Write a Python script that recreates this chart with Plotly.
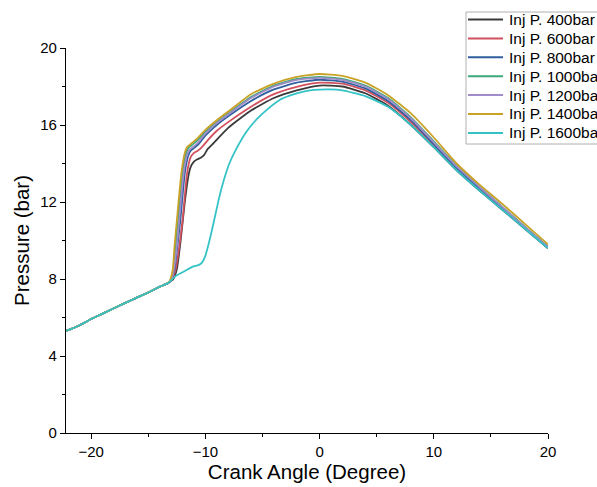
import plotly.graph_objects as go

# ---- data ----
base_x = [-22.2, -21, -20, -19, -18, -17, -16, -15, -14, -13.5, -13.2]
base_y = [5.3, 5.6, 5.92, 6.2, 6.48, 6.76, 7.03, 7.3, 7.6, 7.72, 7.82]

names = ["Inj P. 400bar", "Inj P. 600bar", "Inj P. 800bar", "Inj P. 1000bar",
         "Inj P. 1200bar", "Inj P. 1400bar", "Inj P. 1600bar"]
colors = ["#3a3a3a", "#d2505e", "#2f5f9e", "#3aa87a", "#a08cc8", "#c9a227", "#33c3c6"]

x400 = [-12.8, -12.5, -12.2, -11.8, -11.5, -11.3, -11.0, -10.7, -10.4, -10.1, -9.8, -9.3, -8, -6, -4, -2, 0, 2, 4, 6, 8, 10, 12, 14, 16, 18, 20]
y400 = [8.0, 8.5, 9.8, 12.0, 13.3, 13.8, 14.1, 14.22, 14.3, 14.45, 14.75, 15.05, 15.85, 16.75, 17.4, 17.8, 18.05, 18.0, 17.65, 17.0, 16.0, 14.85, 13.65, 12.6, 11.6, 10.6, 9.6]

x600 = [-12.9, -12.6, -12.3, -12.0, -11.6, -11.3, -11.0, -10.7, -10.3, -9.8, -9, -8, -6, -4, -2, 0, 2, 4, 6, 8, 10, 12, 14, 16, 18, 20]
y600 = [8.0, 8.5, 9.6, 11.0, 13.5, 14.3, 14.55, 14.65, 14.85, 15.2, 15.7, 16.15, 16.95, 17.6, 17.98, 18.2, 18.15, 17.8, 17.15, 16.15, 14.95, 13.72, 12.67, 11.65, 10.62, 9.62]

x800 = [-12.95, -12.7, -12.45, -12.2, -11.8, -11.5, -11.3, -11.0, -10.6, -10, -9, -8, -6, -4, -2, 0, 2, 4, 6, 8, 10, 12, 14, 16, 18, 20]
y800 = [8.0, 8.5, 9.7, 11.0, 13.5, 14.4, 14.65, 14.8, 15.0, 15.45, 16.0, 16.45, 17.25, 17.85, 18.2, 18.35, 18.25, 17.9, 17.25, 16.25, 15.0, 13.78, 12.72, 11.7, 10.65, 9.65]

x1000 = [-13.0, -12.8, -12.6, -12.4, -12.0, -11.7, -11.5, -11.2, -10.8, -10, -9, -8, -6, -4, -2, 0, 2, 4, 6, 8, 10, 12, 14, 16, 18, 20]
y1000 = [8.0, 8.5, 9.7, 11.0, 13.5, 14.5, 14.8, 14.95, 15.15, 15.65, 16.15, 16.6, 17.45, 18.05, 18.4, 18.5, 18.4, 18.05, 17.4, 16.4, 15.15, 13.88, 12.8, 11.75, 10.7, 9.68]

x1200 = [-12.95, -12.75, -12.5, -12.3, -11.9, -11.6, -11.4, -11.1, -10.7, -10, -9, -8, -6, -4, -2, 0, 2, 4, 6, 8, 10, 12, 14, 16, 18, 20]
y1200 = [8.0, 8.5, 9.7, 11.0, 13.5, 14.45, 14.7, 14.85, 15.05, 15.55, 16.1, 16.55, 17.4, 18.0, 18.35, 18.45, 18.35, 18.0, 17.35, 16.35, 15.1, 13.85, 12.78, 11.73, 10.68, 9.66]

x1400 = [-13.05, -12.85, -12.7, -12.5, -12.1, -11.8, -11.6, -11.3, -10.8, -10, -9, -8, -6, -4, -2, 0, 2, 4, 6, 8, 10, 12, 14, 16, 18, 20]
y1400 = [8.0, 8.5, 9.7, 11.0, 13.5, 14.55, 14.85, 15.0, 15.25, 15.75, 16.25, 16.7, 17.6, 18.15, 18.5, 18.65, 18.55, 18.2, 17.55, 16.6, 15.35, 14.0, 12.9, 11.9, 10.85, 9.8]

x1600 = [-12.6, -12.0, -11.1, -10.6, -10.3, -10.0, -9.7, -9.4, -9.1, -8.8, -8.4, -7.9, -7.3, -6.4, -5.5, -4.6, -3.5, -2.5, -1.5, -0.5, 0.9, 2, 4, 6, 8, 10, 12, 14, 16, 18, 20]
y1600 = [8.15, 8.35, 8.64, 8.72, 8.85, 9.2, 9.85, 10.6, 11.4, 12.2, 13.1, 14.0, 14.75, 15.65, 16.3, 16.8, 17.3, 17.55, 17.72, 17.82, 17.85, 17.8, 17.5, 16.95, 16.0, 14.85, 13.65, 12.6, 11.6, 10.6, 9.6]

series_x = [x400, x600, x800, x1000, x1200, x1400, x1600]
series_y = [y400, y600, y800, y1000, y1200, y1400, y1600]

FONT = "Arial, 'Liberation Sans', sans-serif"

# plot area in pixels (for placing the legend box in paper coordinates)
L, R, T, B = 66, 548, 48, 433
W, H = R - L, B - T


def px(xp):
    return (xp - L) / W


def py(yp):
    return (B - yp) / H


fig = go.Figure()
for name, col, sx, sy in zip(names, colors, series_x, series_y):
    fig.add_trace(go.Scatter(
        x=base_x + sx, y=base_y + sy, mode="lines", name=name,
        line=dict(color=col, width=1.8, shape="spline", smoothing=0.5),
        showlegend=False,
    ))

# legend drawn as box + sample lines + text (spacing matches the reference)
shapes = [dict(type="rect", xref="paper", yref="paper",
               x0=px(466), x1=px(620), y0=py(144), y1=py(12),
               line=dict(color="#b0b0b0", width=1), fillcolor="white", layer="above")]
annotations = []
row0, step = 19.5, 18.9
for i, (name, col) in enumerate(zip(names, colors)):
    yc = row0 + i * step
    shapes.append(dict(type="line", xref="paper", yref="paper",
                       x0=px(468), x1=px(503), y0=py(yc), y1=py(yc),
                       line=dict(color=col, width=2), layer="above"))
    annotations.append(dict(xref="paper", yref="paper", x=px(507), y=py(yc),
                            xanchor="left", yanchor="middle", showarrow=False,
                            text=name, font=dict(family=FONT, size=15.5, color="black")))

fig.update_layout(
    width=597, height=487,
    margin=dict(l=L, r=597 - R, t=T, b=487 - B, autoexpand=False),
    paper_bgcolor="white", plot_bgcolor="white",
    font=dict(family=FONT, size=15, color="black"),
    showlegend=False,
    shapes=shapes,
    annotations=annotations,
    xaxis=dict(
        range=[-22.2, 20], showgrid=False, zeroline=False,
        showline=True, linecolor="black", linewidth=1.3,
        ticks="outside", ticklen=5, tickwidth=1.3, tickcolor="black",
        tickmode="array", tickvals=[-20, -10, 0, 10, 20],
        minor=dict(ticks="outside", ticklen=3, tickwidth=1.2, tickcolor="black",
                   tickvals=[-15, -5, 5, 15]),
        tickfont=dict(size=15),
        title=dict(text="Crank Angle (Degree)", font=dict(size=20.5), standoff=2),
    ),
    yaxis=dict(
        range=[0, 20], showgrid=False, zeroline=False,
        showline=True, linecolor="black", linewidth=1.3,
        ticks="outside", ticklen=5, tickwidth=1.3, tickcolor="black",
        tickmode="array", tickvals=[0, 4, 8, 12, 16, 20],
        minor=dict(ticks="outside", ticklen=3, tickwidth=1.2, tickcolor="black",
                   tickvals=[2, 6, 10, 14, 18]),
        tickfont=dict(size=15),
        title=dict(text="Pressure (bar)", font=dict(size=20.5), standoff=4),
    ),
)

fig.write_html("out.html")
